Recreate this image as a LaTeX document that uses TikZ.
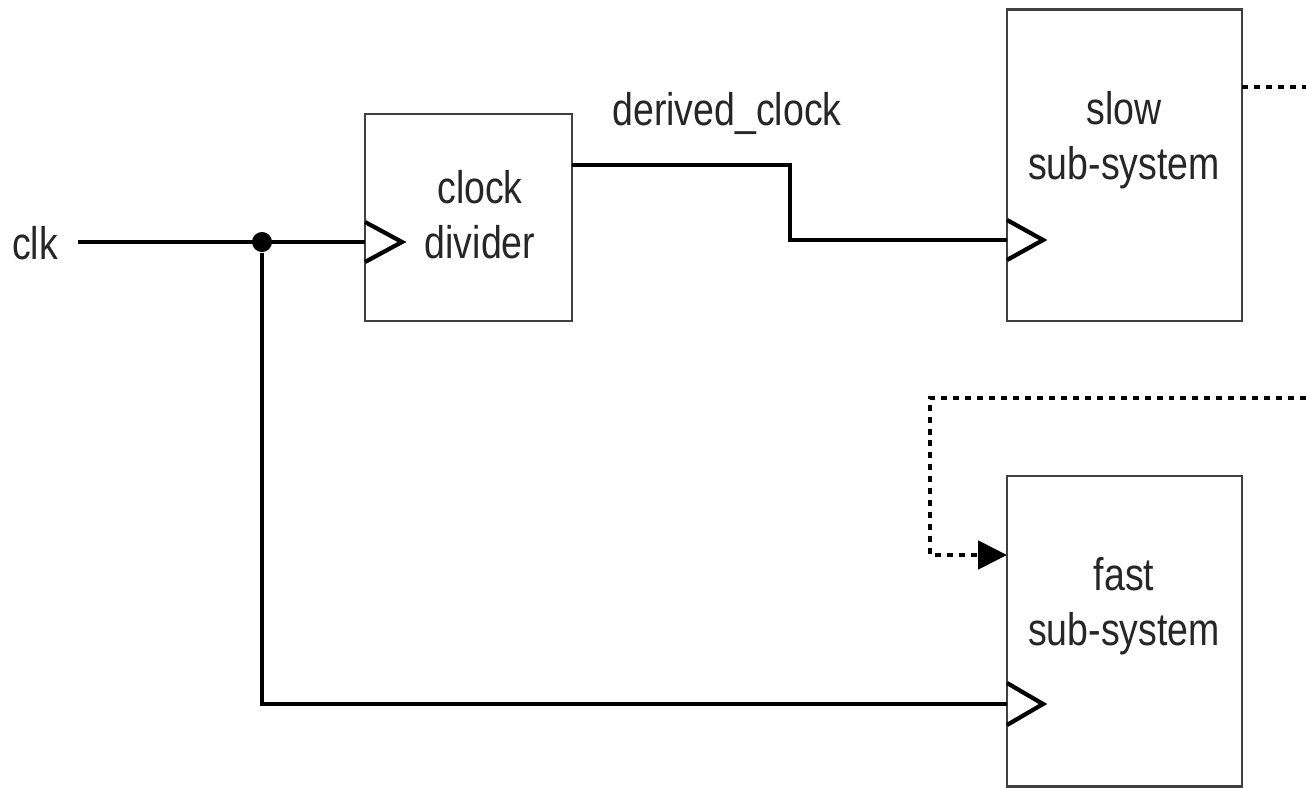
\documentclass[tikz,border=0pt]{standalone}
\usepackage{fontspec}
\setmainfont{Liberation Sans}
\usetikzlibrary{arrows.meta,positioning}

\begin{document}
\begin{tikzpicture}[x=0.01cm,y=-0.01cm,>=Latex,
  wire/.style={line width=1.2pt},
  dotwire/.style={line width=1.2pt,dash pattern=on 1.7pt off 1.7pt},
  blk/.style={draw=black!75,line width=0.8pt,inner sep=0pt},
  lbl/.style={font=\fontsize{13}{15.6}\selectfont,align=center,xscale=0.82,transform shape,text=black!85}]
\useasboundingbox (0,0) rectangle (1306,788);

% blocks
\node[blk,minimum width=2.07cm,minimum height=2.07cm] (div) at (468.5,217.5) {};
\node[blk,minimum width=2.35cm,minimum height=3.11cm] (slow) at (1124.5,165.5) {};
\node[blk,minimum width=2.35cm,minimum height=3.10cm] (fast) at (1124.5,631) {};

\node[lbl] (divtxt) at (480,215) {clock\\divider};
\node[lbl] (slowtxt) at (1124,140) {slow\\sub-system};
\node[lbl] (fasttxt) at (1124,606) {fast\\sub-system};
\node[lbl] (clk) at (35,243) {clk};
\node[lbl] (dclk) at (727,113) {derived\_clock};

% pins
\coordinate (clkin) at (78,242);
\coordinate (divclk) at (365,242);
\coordinate (divq) at (572,165);
\coordinate (slowclk) at (1007,240);
\coordinate (slowq) at (1242,87);
\coordinate (slowout) at (1306,87);
\coordinate (fastclk) at (1007,704);
\coordinate (fastin) at (1007,555);
\coordinate (fastfb) at (1306,398);
\node[circle,fill,inner sep=0pt,minimum size=0.2cm] (split) at (262,242) {};

% clock inputs
\draw[wire] (divclk) ++(0,-20) -- ++(37,20) -- ++(-37,20);
\draw[wire] (slowclk) ++(0,-20) -- ++(36,20) -- ++(-36,20);
\draw[wire] (fastclk) ++(0,-21) -- ++(36,21) -- ++(-36,21);

% wires
\draw[wire] (clkin) -- (divclk);
\draw[wire] (divq) -- ++(218,0) |- (slowclk);
\draw[wire] (split) |- (fastclk);
\draw[dotwire] (slowq) -- (slowout);
\draw[dotwire,-{Triangle[length=8.2pt,width=8pt]}] (fastfb) -- ++(-376,0) |- (fastin);
\end{tikzpicture}
\end{document}
